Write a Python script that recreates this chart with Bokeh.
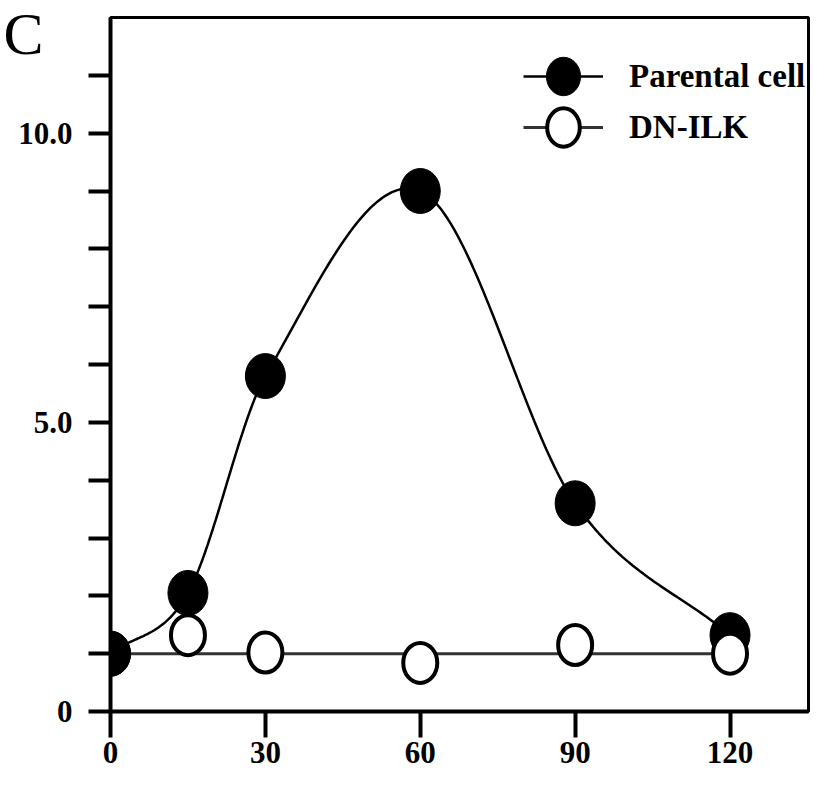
import numpy as np
from bokeh.plotting import figure
from bokeh.models import (Range1d, FixedTicker, Legend, LegendItem, LinearAxis,
                          ColumnDataSource, CDSView, IndexFilter)
from bokeh.embed import file_html
from bokeh.resources import INLINE

# ---- data ----
time_min = [0, 15, 30, 60, 90, 120]
parental = [1.0, 2.05, 5.8, 9.0, 3.6, 1.32]
dn_ilk = [1.0, 1.32, 1.02, 0.84, 1.15, 1.0]
dn_fit_x = [0, 120]
dn_fit_y = [1.0, 1.0]
x_ticks = [0, 30, 60, 90, 120]
y_ticks = list(range(0, 12))
y_labels = {0: "0", 5: "5.0", 10: "10.0"}
panel_letter = "C"

FONT = "Liberation Serif"

# smooth curve through the parental points (cubic Hermite, finite-difference slopes)
xs = np.array(time_min, float)
ys = np.array(parental, float)
n = len(xs)
m = np.zeros(n)
m[0] = (ys[1] - ys[0]) / (xs[1] - xs[0])
m[-1] = (ys[-1] - ys[-2]) / (xs[-1] - xs[-2])
for i in range(1, n - 1):
    m[i] = (ys[i + 1] - ys[i - 1]) / (xs[i + 1] - xs[i - 1])
cx, cy = [], []
for i in range(n - 1):
    h = xs[i + 1] - xs[i]
    t = np.linspace(0, 1, 60)
    h00 = 2 * t**3 - 3 * t**2 + 1
    h10 = t**3 - 2 * t**2 + t
    h01 = -2 * t**3 + 3 * t**2
    h11 = t**3 - t**2
    seg = h00 * ys[i] + h10 * h * m[i] + h01 * ys[i + 1] + h11 * h * m[i + 1]
    cx.extend(list(xs[i] + t * h))
    cy.extend(list(seg))

p = figure(width=810, height=778, output_backend="svg",
           toolbar_location=None, x_range=Range1d(0, 135.2), y_range=Range1d(0, 12),
           min_border_left=107, min_border_right=2, min_border_top=17, min_border_bottom=67)
p.grid.visible = False
p.background_fill_color = "white"
p.outline_line_color = "black"
p.outline_line_width = 3

for ax in (p.xaxis[0], p.yaxis[0]):
    ax.axis_line_width = 4
    ax.axis_line_color = "black"
    ax.major_tick_line_width = 4
    ax.major_tick_line_color = "black"
    ax.major_tick_in = 0
    ax.minor_tick_line_color = None
    ax.major_label_text_font = FONT
    ax.major_label_text_font_style = "bold"
    ax.major_label_text_font_size = "31px"
    ax.major_label_text_color = "black"

p.xaxis.ticker = FixedTicker(ticks=x_ticks)
p.xaxis.major_tick_out = 26
p.xaxis.major_label_standoff = 4
p.yaxis.ticker = FixedTicker(ticks=y_ticks)
p.yaxis.major_tick_out = 22
p.yaxis.major_label_standoff = 16
p.yaxis.major_label_overrides = {t: y_labels.get(t, "") for t in y_ticks}

# panel letter: the single label of a slim helper axis outside the main y axis
letter_axis = LinearAxis(ticker=FixedTicker(ticks=[11.72]),
                         major_label_overrides={11.72: panel_letter},
                         axis_line_color=None, major_tick_line_color=None,
                         minor_tick_line_color=None, major_tick_out=0, major_tick_in=0,
                         major_label_standoff=-28, major_label_text_font=FONT,
                         major_label_text_font_size="60px", major_label_text_color="black")
p.add_layout(letter_axis, "left")

src_p = ColumnDataSource(dict(x=time_min, y=parental))
src_d = ColumnDataSource(dict(x=time_min, y=dn_ilk))

line_p = p.line(cx, cy, line_color="black", line_width=2.5)
line_d = p.line(dn_fit_x, dn_fit_y, line_color="#333333", line_width=3)

filled = p.ellipse("x", "y", width=40, height=45, width_units="screen", height_units="screen",
                   source=src_p, fill_color="black", line_color="black", line_width=1)
opened = p.ellipse("x", "y", width=34, height=40, width_units="screen", height_units="screen",
                   source=src_d, fill_color="white", line_color="black", line_width=4)
# parental point at time 0 lies on top of the DN-ILK point
p.ellipse("x", "y", width=40, height=45, width_units="screen", height_units="screen",
          source=src_p, view=CDSView(filter=IndexFilter([0])),
          fill_color="black", line_color="black", line_width=1)

legend = Legend(items=[LegendItem(label="Parental cell", renderers=[line_p, filled]),
                       LegendItem(label="DN-ILK", renderers=[line_d, opened])],
                location=(413, 560), glyph_width=80, glyph_height=48, spacing=3,
                label_text_font=FONT, label_text_font_style="bold",
                label_text_font_size="33px", label_text_color="black",
                label_standoff=26,
                background_fill_alpha=0, border_line_color=None,
                margin=0, padding=10)
p.add_layout(legend)

open("out.html", "w").write(file_html(p, INLINE))
